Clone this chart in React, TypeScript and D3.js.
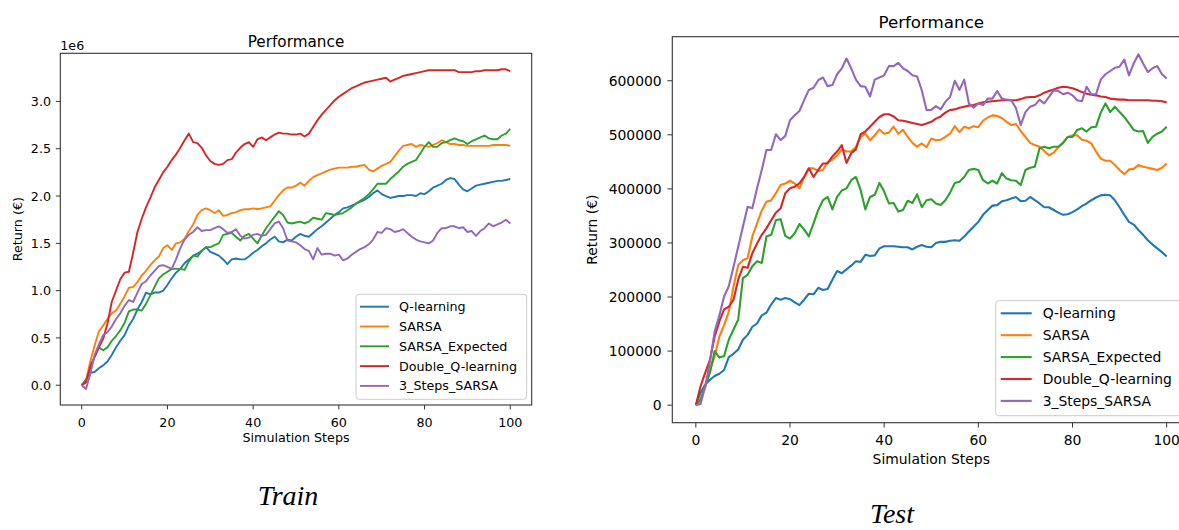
import * as d3 from 'd3';

const steps = d3.range(0, 101);

const seriesNames = ['Q-learning', 'SARSA', 'SARSA_Expected', 'Double_Q-learning', '3_Steps_SARSA'];
const seriesColors = ['#1f77b4', '#ff7f0e', '#2ca02c', '#d62728', '#9467bd'];

// Train returns, in millions of euros (axis offset 1e6)
const trainQ = [0,0.06,0.13,0.14,0.18,0.21,0.25,0.32,0.40,0.47,0.53,0.63,0.70,0.80,0.88,0.98,0.96,0.98,0.98,1.00,1.06,1.13,1.19,1.23,1.29,1.33,1.37,1.39,1.42,1.46,1.41,1.39,1.37,1.33,1.28,1.33,1.34,1.33,1.33,1.36,1.40,1.43,1.47,1.50,1.54,1.57,1.52,1.51,1.54,1.53,1.57,1.60,1.58,1.57,1.61,1.65,1.68,1.72,1.76,1.80,1.83,1.87,1.88,1.90,1.92,1.94,1.96,1.99,2.03,2.06,2.02,2.00,1.98,1.99,2.00,2.00,2.01,2.01,2.00,2.03,2.02,2.05,2.09,2.11,2.13,2.17,2.19,2.18,2.12,2.07,2.05,2.08,2.11,2.12,2.13,2.14,2.15,2.16,2.16,2.17,2.18];
const trainSarsa = [0,0.05,0.25,0.42,0.57,0.63,0.70,0.76,0.79,0.86,0.94,1.03,1.04,1.09,1.16,1.21,1.27,1.32,1.36,1.45,1.48,1.43,1.50,1.51,1.55,1.63,1.70,1.80,1.85,1.87,1.85,1.82,1.85,1.79,1.80,1.82,1.83,1.85,1.86,1.86,1.87,1.86,1.87,1.88,1.89,1.95,2.01,2.06,2.09,2.09,2.11,2.14,2.11,2.16,2.20,2.22,2.24,2.26,2.28,2.29,2.30,2.30,2.30,2.31,2.31,2.32,2.33,2.28,2.26,2.29,2.32,2.34,2.36,2.42,2.48,2.53,2.54,2.55,2.52,2.54,2.53,2.52,2.54,2.56,2.59,2.57,2.55,2.55,2.54,2.54,2.53,2.53,2.53,2.53,2.53,2.53,2.54,2.54,2.54,2.54,2.53];
const trainExpected = [0,0.05,0.18,0.30,0.40,0.37,0.40,0.47,0.52,0.58,0.66,0.78,0.80,0.80,0.79,0.86,0.95,1.04,1.13,1.17,1.20,1.23,1.23,1.23,1.22,1.31,1.37,1.36,1.42,1.46,1.46,1.48,1.50,1.59,1.60,1.61,1.57,1.53,1.58,1.60,1.55,1.50,1.58,1.66,1.72,1.78,1.84,1.80,1.72,1.71,1.72,1.73,1.71,1.73,1.77,1.76,1.75,1.82,1.81,1.80,1.81,1.82,1.85,1.88,1.92,1.95,1.98,2.02,2.07,2.13,2.13,2.13,2.18,2.22,2.26,2.31,2.34,2.36,2.38,2.45,2.52,2.57,2.52,2.52,2.56,2.57,2.59,2.61,2.59,2.58,2.55,2.58,2.60,2.62,2.64,2.61,2.60,2.60,2.64,2.66,2.71];
const trainDouble = [0,0.03,0.20,0.30,0.40,0.49,0.65,0.88,1.00,1.12,1.19,1.20,1.40,1.62,1.76,1.88,1.98,2.09,2.17,2.25,2.31,2.38,2.44,2.51,2.59,2.66,2.57,2.56,2.51,2.43,2.37,2.34,2.33,2.34,2.38,2.39,2.46,2.51,2.55,2.57,2.52,2.60,2.62,2.59,2.62,2.65,2.67,2.66,2.66,2.65,2.65,2.66,2.63,2.66,2.73,2.80,2.86,2.91,2.96,3.01,3.05,3.08,3.11,3.14,3.16,3.18,3.20,3.21,3.22,3.23,3.24,3.25,3.21,3.23,3.25,3.27,3.28,3.29,3.30,3.31,3.32,3.33,3.33,3.33,3.33,3.33,3.33,3.33,3.31,3.31,3.31,3.31,3.32,3.32,3.33,3.33,3.33,3.33,3.34,3.34,3.32];
const trainThree = [0,-0.04,0.12,0.32,0.43,0.53,0.56,0.62,0.70,0.76,0.84,0.90,0.88,0.98,1.07,1.10,1.16,1.21,1.26,1.27,1.25,1.23,1.33,1.45,1.54,1.59,1.62,1.67,1.63,1.64,1.64,1.66,1.68,1.65,1.61,1.62,1.65,1.58,1.55,1.56,1.59,1.60,1.58,1.59,1.65,1.71,1.73,1.66,1.53,1.52,1.51,1.48,1.44,1.42,1.33,1.45,1.38,1.39,1.39,1.37,1.38,1.32,1.34,1.38,1.41,1.44,1.46,1.49,1.54,1.62,1.61,1.66,1.65,1.62,1.63,1.65,1.61,1.57,1.54,1.52,1.51,1.50,1.53,1.61,1.66,1.66,1.68,1.68,1.66,1.67,1.62,1.63,1.58,1.63,1.66,1.71,1.68,1.70,1.72,1.75,1.71];

// Test returns, in thousands of euros
const testQ = [0,23,38,47,54,58,65,89,95,103,121,130,145,151,166,171,186,198,195,198,196,190,185,195,206,205,217,213,215,232,248,244,251,258,266,265,278,276,277,290,294,294,294,293,292,292,288,293,296,293,292,300,302,302,304,305,304,312,321,330,339,352,361,369,370,377,379,382,385,377,378,385,379,373,366,366,361,356,352,353,357,362,368,373,379,384,388,389,388,379,366,352,339,334,324,315,305,297,290,283,275];
const testSarsa = [0,10,34,65,90,127,148,173,219,259,268,272,312,336,360,376,379,392,407,410,415,410,401,422,438,438,433,435,450,454,462,473,469,469,478,496,502,490,499,510,502,504,515,502,509,496,485,478,484,477,493,490,491,496,502,516,505,515,512,516,514,526,532,536,535,531,524,518,520,507,496,485,481,478,470,462,467,477,485,496,499,499,491,489,484,469,456,452,452,444,435,427,436,437,444,441,439,437,435,439,447];
const testExpected = [0,10,35,60,100,88,91,121,140,158,235,241,257,266,263,312,315,342,344,313,308,318,335,325,312,336,361,379,385,362,385,397,401,416,422,398,362,385,389,411,395,373,374,358,361,378,374,390,366,379,381,373,370,379,393,411,413,422,435,437,435,416,410,415,410,429,419,416,415,407,435,439,441,475,478,475,478,478,485,496,496,509,512,506,514,515,541,558,542,552,542,533,521,509,506,507,485,496,502,506,515];
const testDouble = [0,35,60,84,127,155,177,182,195,232,256,254,281,299,315,327,342,356,364,392,401,404,410,422,438,422,435,447,447,460,469,481,448,466,473,501,506,515,524,533,538,538,534,527,526,524,522,520,518,521,524,530,534,541,546,547,550,552,554,555,558,560,561,562,563,564,564,564,564,566,569,570,570,573,578,581,584,587,589,588,586,583,579,576,574,573,571,570,567,566,565,565,564,564,564,564,564,563,563,562,560];
const testThree = [0,2,35,81,136,166,201,220,256,293,330,367,364,401,435,472,472,501,490,498,527,536,544,564,583,587,601,606,590,592,612,623,641,623,602,590,589,571,602,606,610,627,627,633,623,618,610,608,582,546,546,553,547,561,570,600,583,602,558,550,558,555,567,567,581,567,565,564,549,518,542,552,555,565,558,570,582,581,575,578,573,564,562,589,575,575,602,612,618,624,626,639,610,632,649,632,616,623,627,612,604];

const trainTicks = [0, 0.5, 1.0, 1.5, 2.0, 2.5, 3.0];
const testTicks = [0, 100, 200, 300, 400, 500, 600];
const xTicks = [0, 20, 40, 60, 80, 100];

const FONT = 'DejaVu Sans, sans-serif';

function Panel({ series, box, yTicks, yFmt, offset, f, lw, leg, titleY, xLabY, yLabX, tickLabPad, xTickLabDy }) {
  const all = series.flat();
  const lo = d3.min(all), hi = d3.max(all);
  const pad = (hi - lo) * 0.05;
  const x = d3.scaleLinear().domain([-5, 105]).range([box.x0, box.x1]);
  const y = d3.scaleLinear().domain([lo - pad, hi + pad]).range([box.y1, box.y0]);
  const line = d3.line().x((d, i) => x(steps[i])).y(d => y(d));
  const tl = f * 0.35;
  const cx = (box.x0 + box.x1) / 2, cy = (box.y0 + box.y1) / 2;

  return (
    <g fontFamily={FONT} fill="#000">
      {series.map((s, i) => (
        <path key={i} d={line(s)} fill="none" stroke={seriesColors[i]} strokeWidth={lw} strokeLinejoin="round" />
      ))}
      <rect x={box.x0} y={box.y0} width={box.x1 - box.x0} height={box.y1 - box.y0} fill="none" stroke="#333" strokeWidth={1.1} />

      {xTicks.map(t => (
        <g key={t}>
          <line x1={x(t)} x2={x(t)} y1={box.y1} y2={box.y1 + tl} stroke="#333" strokeWidth={1} />
          <text x={x(t)} y={box.y1 + xTickLabDy} fontSize={f} textAnchor="middle">{t}</text>
        </g>
      ))}
      {yTicks.map(t => (
        <g key={t}>
          <line x1={box.x0 - tl} x2={box.x0} y1={y(t)} y2={y(t)} stroke="#333" strokeWidth={1} />
          <text x={box.x0 - tickLabPad} y={y(t)} dy="0.36em" fontSize={f} textAnchor="end">{yFmt(t)}</text>
        </g>
      ))}
      {offset && <text x={box.x0} y={box.y0 - 3.5} fontSize={f}>{offset}</text>}

      <text x={cx} y={titleY} fontSize={f * 1.2} textAnchor="middle">Performance</text>
      <text x={cx} y={xLabY} fontSize={f} textAnchor="middle">Simulation Steps</text>
      <text transform={`translate(${yLabX},${cy}) rotate(-90)`} fontSize={f} textAnchor="middle">Return (€)</text>

      <g transform={`translate(${leg.x},${leg.y})`}>
        <rect width={leg.w} height={leg.h} rx={3} fill="#fff" fillOpacity={0.8} stroke="#ccc" strokeWidth={1} />
        {seriesNames.map((n, i) => {
          const ry = leg.row0 + i * leg.gap;
          return (
            <g key={n}>
              <line x1={leg.hx0} x2={leg.hx1} y1={ry} y2={ry} stroke={seriesColors[i]} strokeWidth={lw} />
              <text x={leg.tx} y={ry} dy="0.36em" fontSize={f}>{n}</text>
            </g>
          );
        })}
      </g>
    </g>
  );
}

export default function App() {
  return (
    <svg width={1179} height={530} style={{ position: 'absolute', left: 0, top: 0, background: '#fff' }}>
      <Panel
        series={[trainQ, trainSarsa, trainExpected, trainDouble, trainThree]}
        box={{ x0: 60.3, x1: 531.7, y0: 53.3, y1: 405 }}
        yTicks={trainTicks}
        yFmt={d3.format('.1f')}
        offset="1e6"
        f={12.7}
        lw={1.9}
        leg={{ x: 356, y: 294.3, w: 170.7, h: 105, row0: 12.4, gap: 19.8, hx0: 4, hx1: 33, tx: 43 }}
        titleY={46.5}
        xLabY={442}
        yLabX={22}
        tickLabPad={9.3}
        xTickLabDy={21.5}
      />
      <Panel
        series={[testQ, testSarsa, testExpected, testDouble, testThree]}
        box={{ x0: 672.3, x1: 1190.2, y0: 36.7, y1: 422.7 }}
        yTicks={testTicks}
        yFmt={v => String(v * 1000)}
        offset={null}
        f={13.9}
        lw={2.1}
        leg={{ x: 995.7, y: 300.7, w: 187.3, h: 115, row0: 12.6, gap: 21.9, hx0: 5, hx1: 36, tx: 47 }}
        titleY={28.3}
        xLabY={464}
        yLabX={596.5}
        tickLabPad={10.6}
        xTickLabDy={22.3}
      />
      <text x={288} y={505} fontFamily="Liberation Serif, serif" fontStyle="italic" fontSize={28} textAnchor="middle">Train</text>
      <text x={892} y={523} fontFamily="Liberation Serif, serif" fontStyle="italic" fontSize={28} textAnchor="middle">Test</text>
    </svg>
  );
}
